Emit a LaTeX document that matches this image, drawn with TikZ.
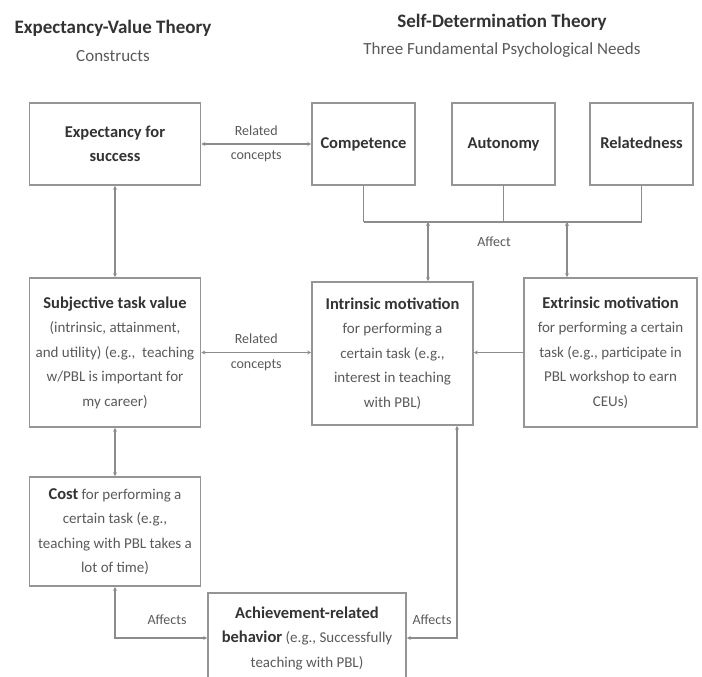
\documentclass[tikz,border=0pt]{standalone}
\usepackage{fontspec}
\setmainfont{Carlito}
\usetikzlibrary{arrows.meta,calc}
\definecolor{boxline}{HTML}{959595}
\definecolor{conline}{HTML}{8C8C8C}
\definecolor{headtext}{HTML}{333333}
\definecolor{bodytext}{HTML}{5A5A5A}
\tikzset{
  box/.style={draw=boxline,line width=1.6pt,rectangle,inner sep=2pt,align=center,
    text=bodytext,font=\fontsize{15}{24.5}\selectfont},
  con/.style={draw=conline,line width=1.5pt},
  both/.style={con,{Stealth[length=4pt,width=4pt]}-{Stealth[length=4pt,width=4pt]}},
  one/.style={con,-{Stealth[length=4pt,width=4pt]}},
  lbl/.style={text=bodytext,align=center,font=\fontsize{14}{24.5}\selectfont},
  ttl/.style={text=headtext,font=\fontsize{19}{22}\selectfont\bfseries},
  sub/.style={text=bodytext,font=\fontsize{17}{20}\selectfont},
}
\newcommand{\hd}[1]{{\fontsize{16.5}{24.5}\selectfont\color{headtext}\bfseries #1}}
\begin{document}
\begin{tikzpicture}[x=1pt,y=-1pt]
\useasboundingbox (0,0) rectangle (702,677);
\clip (0,0) rectangle (702,677);
\fill[white] (0,0) rectangle (702,677);

% titles
\node[ttl] (t1) at (113,28) {Expectancy-Value Theory};
\node[sub] (s1) at (113,56) {Constructs};
\node[ttl] (t2) at (502,22) {Self-Determination Theory};
\node[sub] (s2) at (502,50) {Three Fundamental Psychological Needs};

% boxes
\node[box,minimum width=171pt,minimum height=82pt] (exp) at (115,144)
  {\hd{Expectancy for}\\\hd{success}};
\node[box,minimum width=103pt,minimum height=82pt] (comp) at (363.5,144) {\hd{Competence}\strut};
\node[box,minimum width=103pt,minimum height=82pt] (auto) at (503.5,144) {\hd{Autonomy}\strut};
\node[box,minimum width=103pt,minimum height=82pt] (rel) at (641.5,144) {\hd{Relatedness}\strut};

\node[box,minimum width=171pt,minimum height=149pt] (subj) at (115,352.5)
  {\hd{Subjective task value}\\(intrinsic, attainment,\\and utility) (e.g.,\ \ teaching\\w/PBL is important for\\my career)};
\node[box,minimum width=161pt,minimum height=143pt] (intr) at (392.5,353.5)
  {\hd{Intrinsic motivation}\\for performing a\\certain task (e.g.,\\interest in teaching\\with PBL)};
\node[box,minimum width=173pt,minimum height=149pt] (extr) at (610.5,352.5)
  {\hd{Extrinsic motivation}\\for performing a certain\\task (e.g., participate in\\PBL workshop to earn\\CEUs)};
\node[box,minimum width=171pt,minimum height=109pt] (cost) at (115,531.5)
  {\hd{Cost} for performing a\\certain task (e.g.,\\teaching with PBL takes a\\lot of time)};
\node[box,minimum width=198pt,minimum height=107pt] (ach) at (307,646.5) {};
\node[box,draw=none] (achtext) at (307,638)
  {\hd{Achievement-related}\\\hd{behavior} (e.g., Successfully\\teaching with PBL)};

% bracket from the three needs
\coordinate (b1) at (comp.south |- 0,222);
\coordinate (b2) at (auto.south |- 0,222);
\coordinate (b3) at (rel.south |- 0,222);
\draw[con] (comp.south) -- (b1);
\draw[con] (auto.south) -- (b2);
\draw[con] (rel.south) -- (b3);
\draw[con] (b1) -- (b3);
\coordinate (a1) at (428,222);
\coordinate (a2) at (567,222);
\draw[both] (a1) -- (a1 |- intr.north);
\draw[both] (a2) -- (a2 |- extr.north);
\node[lbl] (affect) at (494,242) {Affect};

% connectors
\draw[both] (exp.east) -- (exp.east -| comp.west)
  node[lbl,midway] (rc1) {Related\\concepts};
\draw[both] (exp.south) -- (subj.north);
\draw[both] (subj.south) -- (cost.north);
\draw[both] (subj.east) -- (subj.east -| intr.west)
  node[lbl,midway] (rc2) {Related\\concepts};
\draw[one] (extr.west) -- (extr.west -| intr.east);

\coordinate (c1) at (cost.south |- achtext.center);
\draw[both] (cost.south) -- (c1) -- (ach.west |- achtext.center);
\node[lbl] (aff1) at (167,620) {Affects};
\coordinate (c2) at (457,0);
\draw[both] (ach.east |- achtext.center) -| (c2 |- intr.south);
\node[lbl] (aff2) at (432,620) {Affects};
\end{tikzpicture}
\end{document}
